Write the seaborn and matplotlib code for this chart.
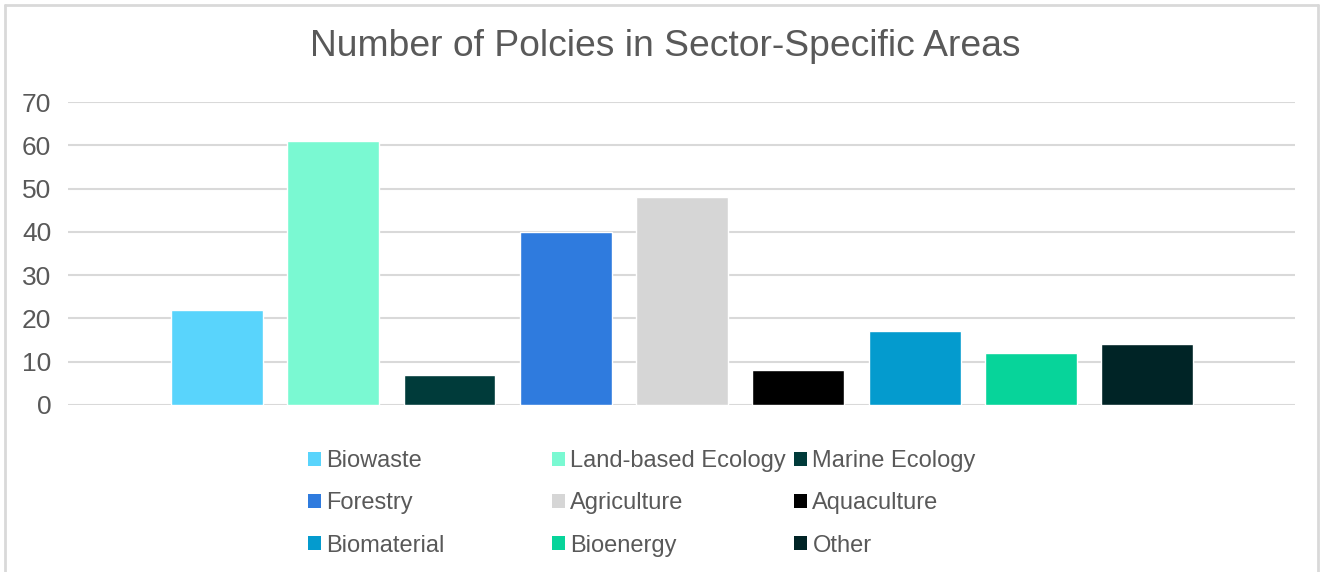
import matplotlib
matplotlib.use("Agg")
import matplotlib.pyplot as plt
import seaborn as sns
import pandas as pd
from matplotlib.patches import Patch
from matplotlib.lines import Line2D

# data
sectors = ["Biowaste", "Land-based Ecology", "Marine Ecology",
           "Forestry", "Agriculture", "Aquaculture",
           "Biomaterial", "Bioenergy", "Other"]
policies = [22, 61, 7, 40, 48, 8, 17, 12, 14]
colors = ["#59D4FC", "#7AF9D2", "#003B3A",
          "#2F7BDE", "#D6D6D6", "#000000",
          "#049BCE", "#07D49A", "#002426"]
yticks = [0, 10, 20, 30, 40, 50, 60, 70]

sns.set_theme(style="white")
plt.rcParams["font.family"] = ["Liberation Sans", "DejaVu Sans"]
text_color = "#595959"
grid_color = "#D9D9D9"

df = pd.DataFrame({"sector": sectors, "policies": policies})

W, H = 1321, 572
fig = plt.figure(figsize=(W / 100, H / 100), dpi=100)
ax = fig.add_axes([68 / W, 1 - 405 / H, (1295 - 68) / W, (405 - 102) / H])

sns.barplot(data=df, x="sector", y="policies", hue="sector",
            palette=colors, width=0.79, legend=False, ax=ax,
            saturation=1, zorder=3)

ax.set_xlim(-1.28, 9.27)
ax.set_ylim(0, 70)
ax.set_yticks(yticks)
ax.set_xticks([])
ax.set_xlabel("")
ax.set_ylabel("")
ax.grid(axis="y", color=grid_color, linewidth=1.5, zorder=0)
for s in ax.spines.values():
    s.set_visible(False)
ax.tick_params(axis="y", length=0, labelsize=19, labelcolor=text_color, pad=12)

fig.text(665 / W, 1 - 47 / H, "Number of Polcies in Sector-Specific Areas",
         ha="center", va="center", fontsize=26.8, color=text_color)

# legend: three columns of equal width, rows filled left to right
col_x = [308, 552, 794]
for c in range(3):
    idx = [c, c + 3, c + 6]
    handles = [Patch(facecolor=colors[i], edgecolor="none") for i in idx]
    fig.legend(handles, [sectors[i] for i in idx],
               loc="upper left", bbox_to_anchor=(col_x[c] / W, 1 - 450 / H),
               frameon=False, fontsize=17, labelcolor=text_color,
               handlelength=0.53, handleheight=0.53, handletextpad=0.25,
               labelspacing=0.86, borderpad=0, borderaxespad=0)

# chart frame
for xs, ys in [([5, 5], [0, H - 5]), ([5, W - 3], [H - 5, H - 5]),
               ([W - 3, W - 3], [H - 5, 0])]:
    fig.add_artist(Line2D([x / W for x in xs], [y / H for y in ys],
                          color=grid_color, linewidth=2))

fig.savefig("out.png", dpi=100)
